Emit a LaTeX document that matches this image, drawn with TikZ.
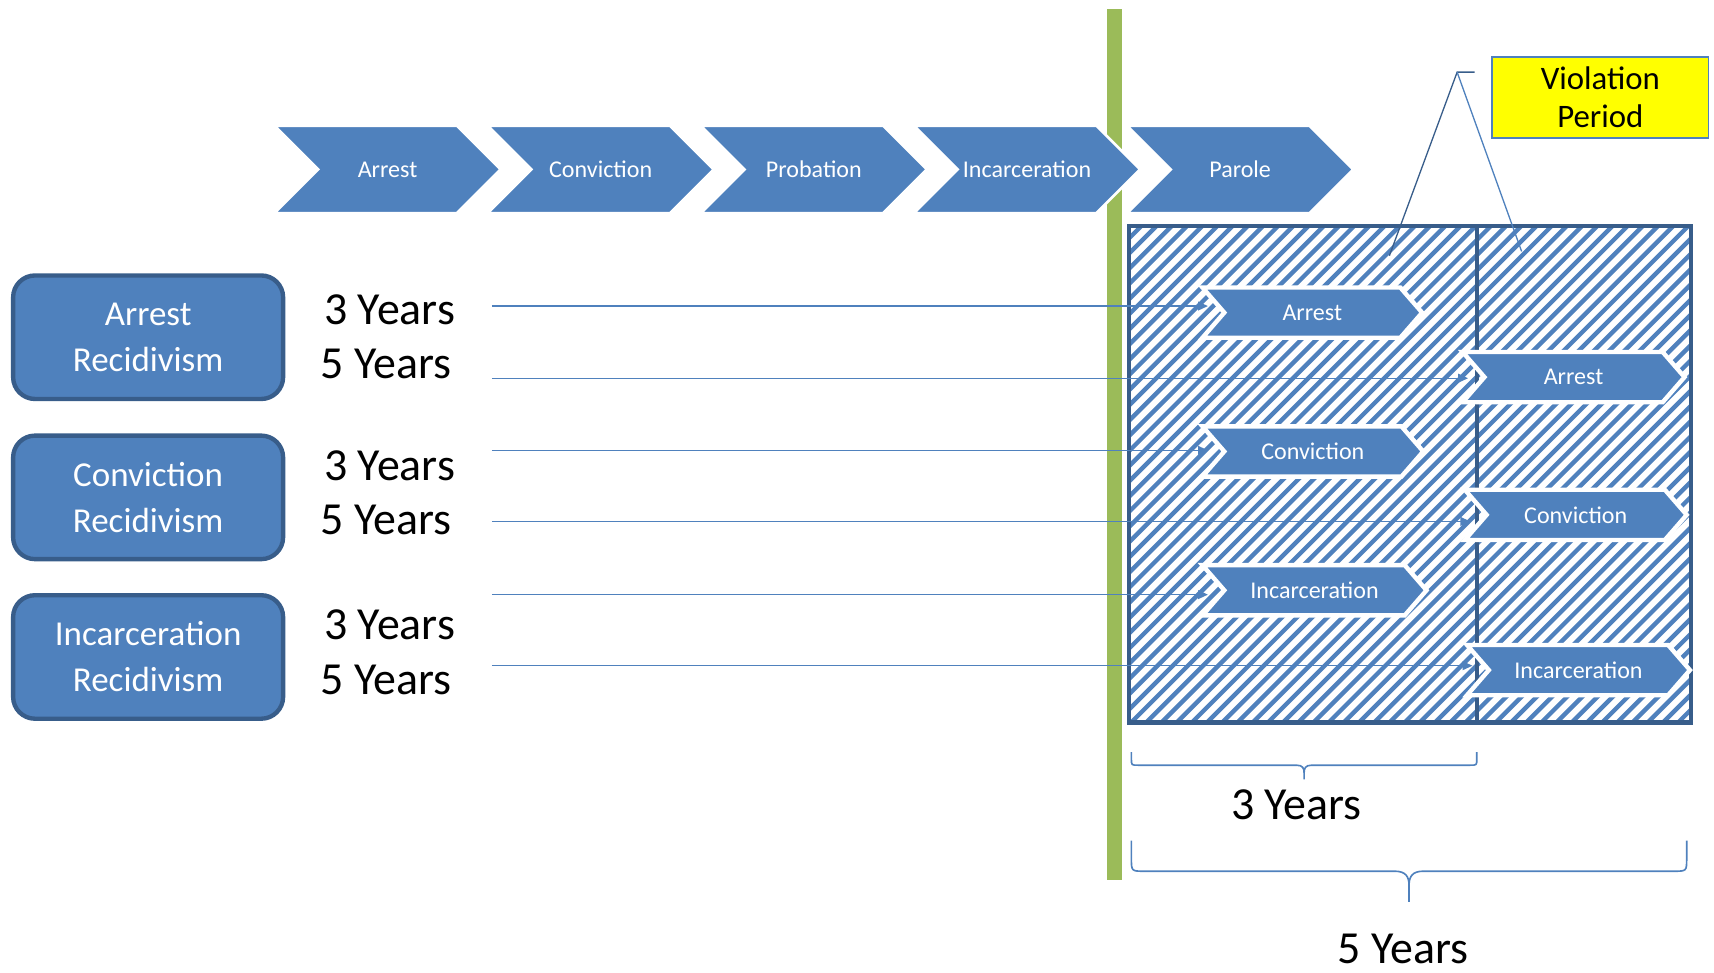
\documentclass[tikz,border=0pt]{standalone}
\usepackage{fontspec}
\setmainfont{Carlito}
\usetikzlibrary{arrows.meta}
\definecolor{obl}{RGB}{79,129,189}
\definecolor{dbl}{RGB}{56,93,138}
\definecolor{grn}{RGB}{155,187,89}
\definecolor{yel}{RGB}{255,255,0}
\newcommand\mychev[8][]{%
  \path[#1] (#3,#4-#6) -- ({#3+#5-#7},#4-#6) -- ({#3+#5},#4) -- ({#3+#5-#7},#4+#6) -- (#3,#4+#6) -- ({#3+#7},#4) -- cycle;
  \node[chevtext] (#2) at ({#3+#5/2},#4) {#8};
  \coordinate (#2-in) at ({#3+5},#4);
}
\begin{document}
\begin{tikzpicture}[x=1pt,y=-1pt,
  chevbig/.style={fill=obl,draw=white,line width=2.5pt},
  chevsmall/.style={fill=obl,draw=white,line width=4pt},
  chevtext/.style={text=white,font=\fontsize{22}{26}\selectfont,inner sep=0pt},
  recbox/.style={fill=obl,draw=dbl,line width=4pt,rounded corners=20pt,minimum width=247pt,minimum height=113pt,align=center,text=white,font=\fontsize{32}{42}\selectfont},
  yrs/.style={font=\fontsize{42}{50}\selectfont,inner sep=0pt},
  arr/.style={draw=obl,line width=1.3pt,-{Triangle[length=9pt,width=8pt]}},
  callout/.style={draw=dbl,line width=1.2pt},
  bracestyle/.style={draw=obl,line width=1.5pt},
  violbox/.style={fill=yel,draw=obl,line width=1.5pt,minimum width=198pt,minimum height=74pt,align=center,font=\fontsize{30}{34}\selectfont},
]
\useasboundingbox (0,0) rectangle (1568,890);
% green divider
\fill[grn] (1013,8) rectangle (1026,805);
% top process chevrons
\mychev[chevbig]{tArrest}{251}{155}{207}{40}{40}{Arrest}
\mychev[chevbig]{tConv}{446}{155}{207}{40}{40}{Conviction}
\mychev[chevbig]{tProb}{641}{155}{207}{40}{40}{Probation}
\mychev[chevbig]{tInc}{836}{155}{207}{40}{40}{Incarceration}
\mychev[chevbig]{tPar}{1031}{155}{207}{40}{40}{Parole}
% hatched period box
\begin{scope}
  \clip (1033,207) rectangle (1547,661);
  \fill[white] (1033,207) rectangle (1547,661);
  \foreach \k in {0,...,72}{
    \draw[obl,line width=4pt] ({572+\k*13.9},665) -- ({572+\k*13.9+462},203);
  }
\end{scope}
\draw[dbl,line width=4pt] (1033,207) rectangle (1547,661);
\draw[dbl,line width=4pt] (1351,207) -- (1351,661);
% small outcome chevrons
\mychev[chevsmall]{a3}{1100}{286}{201}{23}{20}{Arrest}
\mychev[chevsmall]{a5}{1338}{345}{203}{23}{20}{Arrest}
\mychev[chevsmall]{c3}{1100}{413}{202}{23}{20}{Conviction}
\mychev[chevsmall]{c5}{1340}{471}{203}{23}{20}{Conviction}
\mychev[chevsmall]{i3}{1100}{540}{205}{23}{20}{Incarceration}
\mychev[chevsmall]{i5}{1342}{613}{204}{23}{20}{Incarceration}
% recidivism boxes
\node[recbox] (rA) at (135.5,308.5) {Arrest\\Recidivism};
\node[recbox] (rC) at (135.5,455) {Conviction\\Recidivism};
\node[recbox] (rI) at (135.5,601) {Incarceration\\Recidivism};
% year labels
\node[yrs] (yA3) at (356.5,283) {3 Years};
\node[yrs] (yA5) at (353,333) {5 Years};
\node[yrs] (yC3) at (356.5,426) {3 Years};
\node[yrs] (yC5) at (353,476) {5 Years};
\node[yrs] (yI3) at (356.5,572) {3 Years};
\node[yrs] (yI5) at (353,622) {5 Years};
% arrow start points
\coordinate (sA3) at (450,280);
\coordinate (sA5) at (450,346);
\coordinate (sC3) at (450,412);
\coordinate (sC5) at (450,477);
\coordinate (sI3) at (450,544);
\coordinate (sI5) at (450,609);
\draw[arr] (sA3) -- (sA3 -| a3-in);
\draw[arr] (sA5) -- (sA5 -| a5-in);
\draw[arr] (sC3) -- (sC3 -| c3-in);
\draw[arr] (sC5) -- (sC5 -| c5-in);
\draw[arr] (sI3) -- (sI3 -| i3-in);
\draw[arr] (sI5) -- (sI5 -| i5-in);
% violation period callout
\node[violbox] (viol) at (1464,89) {Violation\\Period};
\coordinate (cl0) at (1349,66);
\coordinate (apex) at (1333,66);
\coordinate (cl1) at (1271,234);
\coordinate (cl2) at (1392,230);
\draw[callout] (cl0) -- (apex) -- (cl1);
\draw[callout,draw=obl] (apex) -- (cl2);
% braces
\draw[bracestyle] (1035,688) -- (1035,694) .. controls (1035,700) .. (1041,700) -- (1186,700)
  .. controls (1192,700) and (1193,703) .. (1193,707) -- (1193,713)
  (1193,707) .. controls (1193,703) and (1194,700) .. (1200,700) -- (1345,700)
  .. controls (1351,700) .. (1351,694) -- (1351,688);
\draw[bracestyle] (1035,769) -- (1035,785) .. controls (1035,797) .. (1047,797) -- (1276,797)
  .. controls (1286,797) and (1289,802) .. (1289,810) -- (1289,825)
  (1289,810) .. controls (1289,802) and (1292,797) .. (1302,797) -- (1531,797)
  .. controls (1543,797) .. (1543,785) -- (1543,769);
\node[yrs] (b3) at (1186,736) {3 Years};
\node[yrs] (b5) at (1283.5,868) {5 Years};
\end{tikzpicture}
\end{document}
